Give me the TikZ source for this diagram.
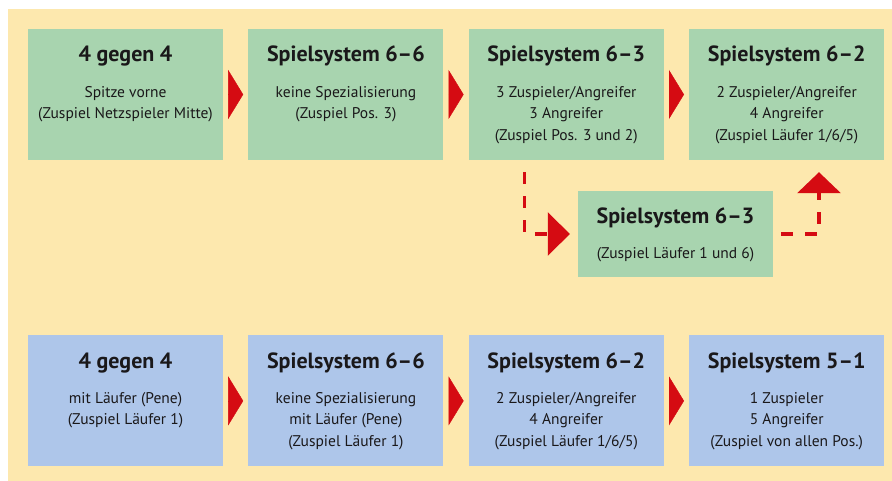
\documentclass[tikz,border=0pt]{standalone}
\usepackage{fontspec}
\setmainfont{PT Sans}
\usetikzlibrary{arrows.meta,positioning,calc}
\definecolor{gelb}{RGB}{253,232,174}
\definecolor{gruen}{RGB}{168,212,175}
\definecolor{blau}{RGB}{174,198,234}
\definecolor{rot}{RGB}{213,11,18}
\definecolor{schrift}{RGB}{26,24,26}
\tikzstyle{stufe}=[rectangle,draw=none,inner sep=0pt,minimum width=195pt,minimum height=131pt]
\tikzstyle{gruenbox}=[stufe,fill=gruen]
\tikzstyle{blaubox}=[stufe,fill=blau]
\tikzstyle{titel}=[anchor=base,inner sep=0pt,font=\fontsize{22}{26}\selectfont\bfseries,text=schrift]
\tikzstyle{zeilen}=[anchor=north,inner sep=0pt,align=center,font=\fontsize{15.5}{21.5}\selectfont,text=schrift]
\tikzstyle{pfeil}=[-{Triangle[length=15pt,width=49pt]},draw=rot,line width=0.4pt,shorten <=5pt,shorten >=5pt]
\tikzstyle{strich}=[draw=rot,line width=3.7pt,dash pattern=on 12pt off 12pt]
% box with title and text lines
\newcommand*{\stufe}[5]{
  \node[#2] (#1) {};
  \node[titel] (#1t) at ($(#1.north)+(0,-33)$) {#4};
  \node[zeilen] (#1z) at ($(#1.north)+(0,-#3)$) {\strut #5};
}

\begin{document}
\begin{tikzpicture}[x=1pt,y=1pt]
  \useasboundingbox (0,0) rectangle (892,-481);
  \fill[gelb] (8,-9) rectangle (892,-481);
  % top row
  \stufe{s1}{gruenbox,at={(125.5,-94.5)}}{53}{4 gegen 4}{Spitze vorne\\(Zuspiel Netzspieler Mitte)}
  \stufe{s2}{gruenbox,right=25pt of s1}{53}{Spielsystem 6–6}{keine Spezialisierung\\(Zuspiel Pos. 3)}
  \stufe{s3}{gruenbox,right=25pt of s2}{53}{Spielsystem 6–3}{3 Zuspieler/Angreifer\\3 Angreifer\\(Zuspiel Pos. 3 und 2)}
  \stufe{s4}{gruenbox,right=25pt of s3}{53}{Spielsystem 6–2}{2 Zuspieler/Angreifer\\4 Angreifer\\(Zuspiel Läufer 1/6/5)}
  % middle
  \stufe{s5}{gruenbox,minimum height=86pt,at={(675.5,-234)}}{52}{Spielsystem 6–3}{(Zuspiel Läufer 1 und 6)}
  % bottom row
  \stufe{b1}{blaubox,below=175pt of s1}{53}{4 gegen 4}{mit Läufer (Pene)\\(Zuspiel Läufer 1)}
  \stufe{b2}{blaubox,right=25pt of b1}{53}{Spielsystem 6–6}{keine Spezialisierung\\mit Läufer (Pene)\\(Zuspiel Läufer 1)}
  \stufe{b3}{blaubox,right=25pt of b2}{53}{Spielsystem 6–2}{2 Zuspieler/Angreifer\\4 Angreifer\\(Zuspiel Läufer 1/6/5)}
  \stufe{b4}{blaubox,right=25pt of b3}{53}{Spielsystem 5–1}{1 Zuspieler\\5 Angreifer\\(Zuspiel von allen Pos.)}
  % arrows
  \draw[pfeil] (s1) -- (s2);
  \draw[pfeil] (s2) -- (s3);
  \draw[pfeil] (s3) -- (s4);
  \draw[pfeil] (b1) -- (b2);
  \draw[pfeil] (b2) -- (b3);
  \draw[pfeil] (b3) -- (b4);
  \coordinate (k1) at ($(s3.south west)+(56,-12)$);
  \coordinate (k2) at ($(s4.south west)+(130,0)$);
  \draw[strich,-{Triangle[length=22pt,width=43pt]},shorten >=8pt] (k1) |- (s5);
  \draw[strich,-{Triangle[length=21pt,width=43pt]},shorten <=8pt,shorten >=12pt] (s5) -| (k2);
\end{tikzpicture}
\end{document}
